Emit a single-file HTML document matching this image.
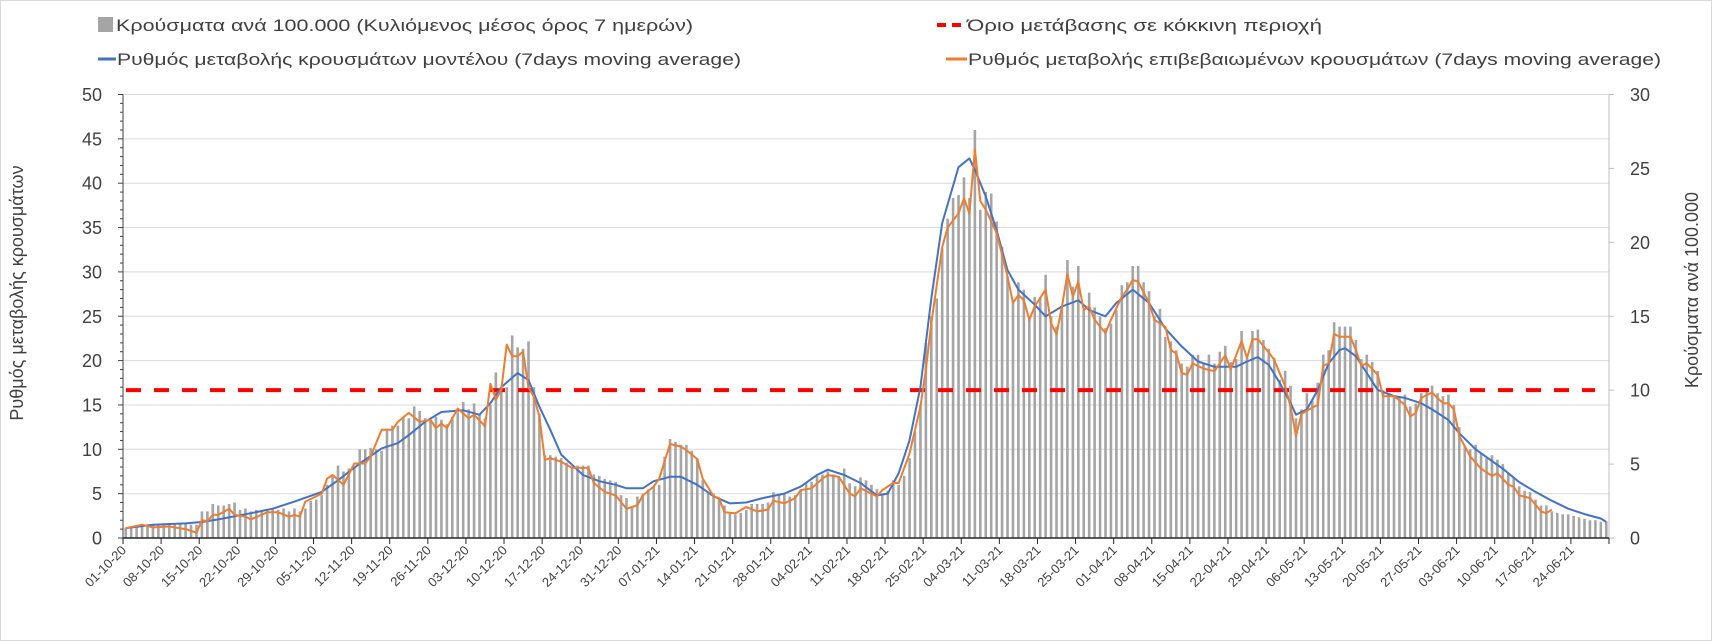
<!DOCTYPE html>
<html><head><meta charset="utf-8"><style>
html,body{margin:0;padding:0;background:#fff;}
svg{display:block;font-family:"Liberation Sans","DejaVu Sans",sans-serif;}
</style></head><body>
<svg id="chart" width="1712" height="641" viewBox="0 0 1712 641" xmlns="http://www.w3.org/2000/svg">
<rect x="0.5" y="0.5" width="1711" height="640" fill="#fff" stroke="#d9d9d9"/>
<g id="grid"></g>
<g id="bars"></g>
<g id="lines"></g>
<g id="axes"></g>
<text transform="translate(23,293) rotate(-90)" text-anchor="middle" font-size="18" fill="#404040">Ρυθμός μεταβολής κρουσμάτων</text>
<text transform="translate(1698,290) rotate(-90)" text-anchor="middle" font-size="18" fill="#404040">Κρούσματα ανά 100.000</text>
<g font-size="17" fill="#404040">
  <g>
    <rect x="98" y="17" width="15" height="15" fill="#a5a5a5"/>
    <text x="116" y="31" textLength="577" lengthAdjust="spacingAndGlyphs">Κρούσματα ανά 100.000 (Κυλιόμενος μέσος όρος 7 ημερών)</text>
  </g>
  <g>
    <line x1="937" y1="25" x2="964" y2="25" stroke="#ff0000" stroke-width="4" stroke-dasharray="9,6"/>
    <text x="967" y="31" textLength="355" lengthAdjust="spacingAndGlyphs">Όριο μετάβασης σε κόκκινη περιοχή</text>
  </g>
  <g>
    <line x1="98" y1="59" x2="116" y2="59" stroke="#4472c4" stroke-width="3"/>
    <text x="117" y="65" textLength="624" lengthAdjust="spacingAndGlyphs">Ρυθμός μεταβολής κρουσμάτων μοντέλου (7days moving average)</text>
  </g>
  <g>
    <line x1="946" y1="59" x2="967" y2="59" stroke="#ed7d31" stroke-width="3"/>
    <text x="968" y="65" textLength="693" lengthAdjust="spacingAndGlyphs">Ρυθμός μεταβολής επιβεβαιωμένων κρουσμάτων (7days moving average)</text>
  </g>
</g>
</svg>
<script>
// ---- data ----
const dateLabels = ["01-10-20","08-10-20","15-10-20","22-10-20","29-10-20","05-11-20","12-11-20","19-11-20","26-11-20","03-12-20","10-12-20","17-12-20","24-12-20","31-12-20","07-01-21","14-01-21","21-01-21","28-01-21","04-02-21","11-02-21","18-02-21","25-02-21","04-03-21","11-03-21","18-03-21","25-03-21","01-04-21","08-04-21","15-04-21","22-04-21","29-04-21","06-05-21","13-05-21","20-05-21","27-05-21","03-06-21","10-06-21","17-06-21","24-06-21"];
const leftTicks = [0,5,10,15,20,25,30,35,40,45,50];
const rightTicks = [0,5,10,15,20,25,30];
const thresholdRight = 10;
// cases per 100k (right axis), one per day from 01-10-20
const caseBars = [
0.7,0.8,0.8,0.8,0.8,0.9,0.9,0.9,1.0,1.0,1.0,1.0,0.9,0.9,
1.8,1.8,2.3,2.2,2.2,2.3,2.4,
1.9,2.0,1.8,1.9,1.8,1.9,2.0,
1.9,2.0,1.8,2.0,1.8,2.0,
2.5,2.6,2.9,3.6,4.2,4.9,4.5,4.7,4.8,
6.0,6.0,6.1,6.0,5.9,
7.4,7.6,7.6,8.1,8.1,8.9,8.6,8.1,8.0,8.2,8.0,
7.7,8.2,8.5,9.2,8.7,9.1,8.4,8.1,9.0,
11.2,9.9,10.2,13.7,12.9,12.8,13.3,10.2,8.4,
5.6,5.6,5.5,5.4,5.1,4.8,4.9,4.9,4.9,4.3,4.2,4.0,3.9,3.8,
2.9,2.7,2.1,2.8,3.0,3.3,3.5,3.6,
5.5,6.7,6.5,6.3,6.3,5.9,5.4,
3.9,3.0,3.0,2.6,2.2,1.7,1.6,1.7,1.9,2.3,2.3,2.3,2.4,
3.1,2.9,3.0,2.8,2.9,3.3,3.7,3.8,4.2,4.3,4.5,4.3,4.2,4.7,
3.7,3.5,4.1,3.9,3.6,3.3,3.0,3.2,3.9,3.6,4.2,
5.4,7.2,9.0,13.2,15.0,16.2,19.6,21.6,23.0,23.2,24.4,23.0,27.6,
22.2,23.4,23.3,21.4,19.7,17.7,16.1,17.3,16.8,14.8,16.3,16.3,17.8,15.0,14.3,15.6,
18.8,17.0,18.4,15.4,16.6,15.6,15.0,14.2,14.5,15.4,17.1,17.3,18.4,18.4,17.3,16.7,15.0,15.5,
13.6,13.3,12.7,11.8,11.6,12.4,12.4,11.8,12.4,11.8,12.6,13.0,11.9,12.1,
14.0,12.3,14.0,14.1,13.4,12.8,12.2,10.7,11.3,10.3,8.1,8.7,9.8,9.3,10.5,
12.4,12.7,14.6,14.3,14.3,14.3,13.4,12.1,12.4,11.9,11.3,10.0,9.8,9.6,9.5,9.7,
8.9,9.1,9.8,10.0,10.3,9.8,9.6,9.7,9.0,7.5,
6.2,6.0,6.3,5.7,5.4,5.6,5.3,5.0,4.4,4.1,3.5,3.2,3.1,2.6,2.2,2.2,1.8,1.7,1.6,1.6,1.5,1.4,1.3,1.2,1.2,1.1,1.1];
// model rate (left axis): day index, value
const modelDays = [0,5,11,14,17,23,27,31,36,39,43,47,50,52,55,58,62,65,67,69,72,74,76,78,80,84,87,90,92,95,97,100,102,105,108,111,114,117,121,124,127,129,132,135,138,140,142,144,146,148,150,153,155,156,158,160,162,164,167,169,172,175,177,180,182,185,188,191,194,197,200,204,206,208,210,212,214,215,217,219,221,223,224,226,228,230,233,235,238,240,243,245,248,253,256,259,262,265,268,271,272];
const modelVals = [1.1,1.5,1.65,1.8,2.1,2.8,3.3,4.1,5.2,6.5,8.4,10.1,10.7,11.6,13.1,14.2,14.4,13.9,15.2,17,18.6,17.8,14.8,12.2,9.4,7.1,6.4,6.0,5.6,5.6,6.4,6.9,6.9,6.0,4.7,3.9,4.0,4.5,5.0,5.8,7.1,7.7,7.1,6.2,4.8,5.0,7.3,11,17,27,35.5,41.8,42.8,41.5,38.5,34.7,30.2,28,26.3,25,26.1,26.8,25.7,25,26.5,28,26.5,23.6,21.6,19.9,19.3,19.3,19.9,20.4,19.5,17.5,15.2,13.9,14.5,16.7,19.7,21.2,21.4,20.5,18.6,16.7,16,15.8,15.2,14.5,13.3,11.8,10.0,7.8,6.3,5.2,4.2,3.3,2.7,2.2,1.8];
// confirmed rate (left axis): day index, value
const confDays = [0,3,5,8,11,13,14,15,16,17,19,20,22,23,26,28,30,31,32,33,36,37,38,40,42,44,45,47,49,50,52,54,56,57,58,59,61,63,64,66,67,68,69,70,71,72,73,74,75,76,77,78,80,82,85,86,88,90,92,94,95,97,98,100,102,103,105,106,108,109,110,112,114,116,118,119,121,123,124,126,128,129,131,133,134,135,138,139,141,142,144,146,147,148,150,151,153,154,155,156,157,158,160,162,163,164,165,166,167,169,170,171,172,173,174,175,176,177,178,180,181,183,184,185,186,188,189,191,192,193,194,195,196,198,200,202,203,205,206,207,208,210,211,213,214,215,216,218,219,220,221,222,223,225,226,227,228,230,231,233,235,236,237,238,240,241,242,243,244,245,247,249,251,252,254,255,256,258,260,261,262];
const confVals = [1.1,1.5,1.2,1.3,1.0,0.6,2.0,1.9,2.6,2.6,3.3,2.6,2.4,2.1,2.9,2.9,2.4,2.6,2.4,4.1,5.0,6.7,7.1,6.0,8.4,8.4,9.2,12.2,12.2,13.1,14.1,13.1,13.3,12.4,12.9,12.4,14.6,13.5,13.9,12.6,17.4,15.6,16.7,21.8,20.5,20.5,21,17,15.9,13.7,8.8,9.0,8.6,7.9,7.9,6.2,5.2,4.8,3.3,3.7,4.8,5.8,6.7,10.6,10.3,9.9,8.9,6.7,4.7,4.5,2.9,2.8,3.5,3.0,3.2,4.2,3.9,4.5,5.4,5.6,6.7,7.1,6.9,5.0,4.7,5.6,4.7,5.4,6.2,6.2,9.5,14.8,19,24.2,32.8,35,36.6,38.3,36.6,43.8,38,37,34.4,29.5,26.5,27.4,26.8,24.6,26.1,28,24.2,23,26.1,29.8,27.2,28.9,25.7,26.1,24.6,23.1,24.6,27.2,28,29.1,28.9,26.5,24.6,23.8,21.2,20.8,18.6,18.4,19.7,19.1,18.8,20.6,19,22.2,20.3,22.4,22.4,20.9,20.1,17.1,14.8,11.5,14,14.7,15,19.4,19.7,23,22.7,22.7,21.2,19.4,19.7,18.4,16,16,15,13.7,14.1,15.8,16.4,15.8,15.2,15.2,14.5,11.5,9.2,7.8,7.0,7.3,6.0,5.8,4.8,4.5,3.0,2.8,3.2];

// ---- axes scales ----
const NS = "http://www.w3.org/2000/svg";
const X0 = 123, X1 = 1609, Y0 = 538, YTOP = 94.5;
const nDays = caseBars.length;
const dayW = (X1 - X0) / nDays;
const xEdge = d => X0 + dayW * d;
const xC = d => X0 + dayW * (d + 0.5);
const yL = v => Y0 - (Y0 - YTOP) * v / 50;
const yR = v => Y0 - (Y0 - YTOP) * v / 30;
function mk(tag, attrs, parent) {
  const e = document.createElementNS(NS, tag);
  for (const k in attrs) e.setAttribute(k, attrs[k]);
  parent.appendChild(e);
  return e;
}
const grid = document.getElementById('grid');
const bars = document.getElementById('bars');
const lines = document.getElementById('lines');
const axes = document.getElementById('axes');

leftTicks.forEach(t => {
  if (t > 0) {
    const g = mk('line', {x1: X0, x2: X1, y1: yL(t), y2: yL(t), stroke: '#d9d9d9', 'stroke-width': 1}, grid);
    
    
  }
  const tx = mk('text', {x: 102, y: yL(t) + 6.5, 'text-anchor': 'end', 'font-size': 18, fill: '#404040'}, axes);
  tx.textContent = t;
  
  
});
// left minor ticks
for (let v = 0; v <= 50; v++) {
  const len = v % 5 === 0 ? 5 : 3;
  mk('line', {x1: X0 - len, x2: X0, y1: yL(v), y2: yL(v), stroke: '#404040', 'stroke-width': 1}, axes);
}
rightTicks.forEach(t => {
  const tx = mk('text', {x: 1630, y: yR(t) + 6.5, 'text-anchor': 'start', 'font-size': 18, fill: '#404040'}, axes);
  tx.textContent = t;
  
  
  mk('line', {x1: X1, x2: X1 + 5, y1: yR(t), y2: yR(t), stroke: '#bfbfbf', 'stroke-width': 1}, axes);
});

// bars
caseBars.forEach((v, i) => {
  const b = mk('rect', {x: xC(i) - 1.3, y: yR(v), width: 2.6, height: Y0 - yR(v), fill: '#a5a5a5'}, bars);
  
  
});

// threshold
const th = mk('line', {x1: X0 + 3, x2: X1 - 14, y1: yR(thresholdRight), y2: yR(thresholdRight), stroke: '#ff0000', 'stroke-width': 4, 'stroke-dasharray': '15,13'}, lines);



function path(days, vals, color, name) {
  const d = days.map((dd, i) => (i ? 'L' : 'M') + xC(dd).toFixed(1) + ',' + yL(vals[i]).toFixed(1)).join(' ');
  const p = mk('path', {d: d, fill: 'none', stroke: color, 'stroke-width': 2, 'stroke-linejoin': 'round'}, lines);
  
  
}
path(modelDays, modelVals, '#4472c4', 'model-rate-line');
path(confDays, confVals, '#ed7d31', 'confirmed-rate-line');

// axis lines
mk('line', {x1: X0, x2: X0, y1: YTOP, y2: Y0, stroke: '#404040', 'stroke-width': 1}, axes);
mk('line', {x1: X1, x2: X1, y1: YTOP, y2: Y0, stroke: '#bfbfbf', 'stroke-width': 1}, axes);
mk('line', {x1: X0, x2: X1, y1: Y0, y2: Y0, stroke: '#262626', 'stroke-width': 1.5}, axes);
dateLabels.forEach((lab, k) => {
  const x = xEdge(k * 7);
  mk('line', {x1: x, x2: x, y1: Y0, y2: Y0 + 6, stroke: '#262626', 'stroke-width': 1}, axes);
  const t = mk('text', {transform: 'translate(' + (x + 4) + ',' + (Y0 + 13) + ') rotate(-45)', 'text-anchor': 'end', 'font-size': 13, fill: '#404040'}, axes);
  t.textContent = lab;
  
  
});
mk('line', {x1: X1, x2: X1, y1: Y0, y2: Y0 + 6, stroke: '#262626', 'stroke-width': 1}, axes);
</script>
</body></html>
